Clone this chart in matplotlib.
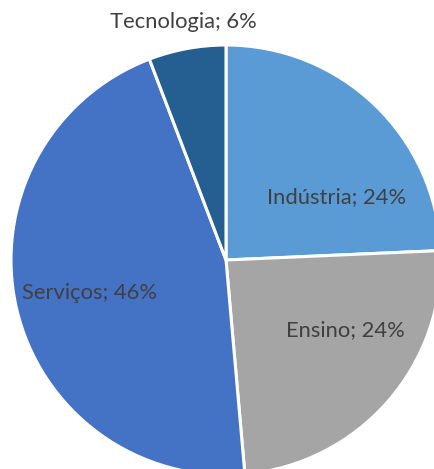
import numpy as np
import matplotlib
matplotlib.use("Agg")
from matplotlib import pyplot as plt

labels = ["Indústria", "Ensino", "Serviços", "Tecnologia"]
values = [24.3, 24.3, 45.6, 5.8]
colors = ["#5B9BD5", "#A5A5A5", "#4472C4", "#255E91"]
# label anchor points (data units, radius = 1)
label_pos = [(0.516, 0.293), (0.553, -0.326), (-0.633, -0.153), (-0.20, 1.105)]

plt.rcParams['font.family'] = ['Lato', 'DejaVu Sans']

fig = plt.figure(figsize=(4.34, 4.69), dpi=100)
ax = fig.add_axes([0, 0, 1, 1])

ax.pie(values, colors=colors, startangle=90, counterclock=False,
       wedgeprops=dict(edgecolor="white", linewidth=2.2), radius=1.0)

for lab, v, (x, y) in zip(labels, values, label_pos):
    ax.text(x, y, "{}; {:.0f}%".format(lab, v), ha="center", va="center",
            fontsize=15.8, color="#404040")

ax.set_xlim(-226 / 215, (434 - 226) / 215)
ax.set_ylim(-(469 - 260) / 215, 260 / 215)
ax.set_aspect("auto")
ax.axis("off")

fig.savefig("out.png", dpi=100)
